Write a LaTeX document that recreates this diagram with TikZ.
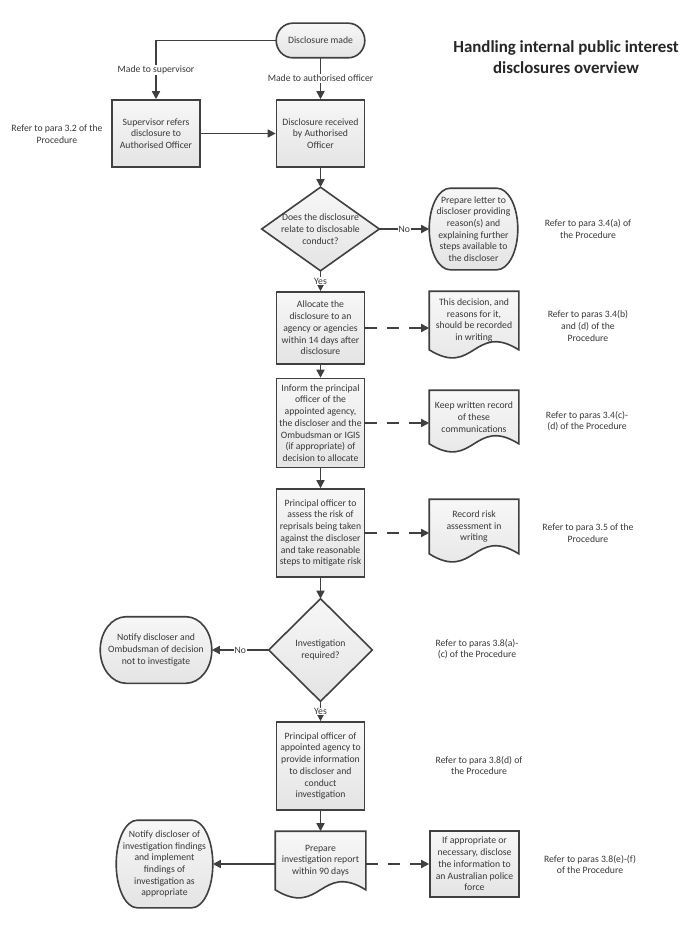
\documentclass[tikz,border=0pt]{standalone}
\usepackage{fontspec}
\setmainfont{Carlito}
\usetikzlibrary{arrows.meta,calc}
\definecolor{ln}{HTML}{404040}
\definecolor{tx}{HTML}{383838}
\definecolor{ftop}{HTML}{F7F7F7}
\definecolor{fbot}{HTML}{E4E4E4}
\pgfdeclarelayer{bg}
\pgfdeclarelayer{paper}
\pgfsetlayers{paper,bg,main}
\tikzset{
  every node/.style={font=\fontsize{9.7}{11.7}\selectfont, text=tx, align=center},
  holder/.style 2 args={rectangle, inner sep=0pt, outer sep=0.8pt, minimum width=#1, minimum height=#2},
  boxn/.style 2 args={rectangle, draw=ln, line width=1.6pt, top color=ftop, bottom color=fbot,
    inner sep=0pt, minimum width=#1, minimum height=#2},
  shp/.style={draw=ln, line width=1.6pt, top color=ftop, bottom color=fbot},
  arr/.style={draw=ln, line width=1.6pt, -{Triangle[length=8pt,width=8pt]}},
  dsh/.style={arr, dash pattern=on 12pt off 10pt on 12pt off 10pt on 40pt off 1pt},
  lab/.style={fill=white, inner sep=0.6pt},
  note/.style={},
}
\newcommand\termshape[2]{%
  \path[shp] ($(#1.north west)+(#2,0)$) -- ($(#1.north east)+(-#2,0)$)
  .. controls ($(#1.north east)+({-0.4477*#2},0)$) and ($(#1.east)!0.5523!(#1.north east)$) .. (#1.east)
  .. controls ($(#1.east)!0.5523!(#1.south east)$) and ($(#1.south east)+({-0.4477*#2},0)$) .. ($(#1.south east)+(-#2,0)$)
  -- ($(#1.south west)+(#2,0)$)
  .. controls ($(#1.south west)+({0.4477*#2},0)$) and ($(#1.west)!0.5523!(#1.south west)$) .. (#1.west)
  .. controls ($(#1.west)!0.5523!(#1.north west)$) and ($(#1.north west)+({0.4477*#2},0)$) .. ($(#1.north west)+(#2,0)$)
  -- cycle;}
\newcommand\docshape[2]{%
  \path[shp] (#1.north west) -- (#1.north east) -- (#1.south east)
  .. controls ($(#1.south)+(0,-#2)$) and ($(#1.south)+(0,#2)$) .. (#1.south west) -- cycle;}
\newcommand\diashape[1]{%
  \path[shp] (#1.north) -- (#1.east) -- (#1.south) -- (#1.west) -- cycle;}
\begin{document}
\begin{tikzpicture}[x=1pt,y=-1pt]
\begin{pgfonlayer}{paper}
\useasboundingbox[fill=white] (0,0) rectangle (683,947);
\end{pgfonlayer}

% title
\node[font=\fontsize{16.9}{20.5}\selectfont\bfseries, text=black!85] (title) at (566,57)
  {Handling internal public interest\\disclosures overview};

% nodes
\node[holder={87pt}{33pt}] (dm) at (320.5,40.5) {Disclosure made};
\node[boxn={88pt}{67pt}] (sup) at (156,133.5) {Supervisor refers\\disclosure to\\Authorised Officer};
\node[boxn={88pt}{67pt}] (rec) at (320.5,133.5) {Disclosure received\\by Authorised\\Officer};
\node[note] (ref32) at (57,134) {Refer to para 3.2 of the\\Procedure};

\node[holder={116pt}{82pt}] (d1) at (320.5,229) {Does the disclosure\\relate to disclosable\\conduct?};
\node[holder={87pt}{80pt}] (letter) at (473.5,229) {Prepare letter to\\discloser providing\\reason(s) and\\explaining further\\steps available to\\the discloser};
\node[note] (ref34a) at (588,229) {Refer to para 3.4(a) of\\the Procedure};

\node[boxn={88pt}{72pt}] (alloc) at (320.5,328) {Allocate the\\disclosure to an\\agency or agencies\\within 14 days after\\disclosure};
\node[holder={88pt}{57pt}] (doc1) at (474,320.5) {This decision, and\\reasons for it,\\should be recorded\\in writing};
\node[note] (ref34b) at (588,326) {Refer to paras 3.4(b)\\and (d) of the\\Procedure};

\node[boxn={88pt}{89pt}] (inform) at (320.5,423) {Inform the principal\\officer of the\\appointed agency,\\the discloser and the\\Ombudsman or IGIS\\(if appropriate) of\\decision to allocate};
\node[holder={88pt}{52pt}] (doc2) at (474,417) {Keep written record\\of these\\communications};
\node[note] (ref34c) at (587,421) {Refer to paras 3.4(c)-\\(d) of the Procedure};

\node[boxn={88pt}{88pt}] (assess) at (320.5,533) {Principal officer to\\assess the risk of\\reprisals being taken\\against the discloser\\and take reasonable\\steps to mitigate risk};
\node[holder={88pt}{53pt}] (doc3) at (474,526.5) {Record risk\\assessment in\\writing};
\node[note] (ref35) at (588,533) {Refer to para 3.5 of the\\Procedure};

\node[holder={102pt}{101pt}] (d2) at (320.5,650) {Investigation\\required?};
\node[holder={110pt}{65pt}] (notify1) at (156,650) {Notify discloser and\\Ombudsman of decision\\not to investigate};
\node[note] (ref38a) at (477,649) {Refer to paras 3.8(a)-\\(c) of the Procedure};

\node[boxn={88pt}{88pt}] (invest) at (320.5,766) {Principal officer of\\appointed agency to\\provide information\\to discloser and\\conduct\\investigation};
\node[note] (ref38d) at (479,765.5) {Refer to para 3.8(d) of\\the Procedure};

\node[holder={89pt}{57pt}] (report) at (320.5,860.5) {Prepare\\investigation report\\within 90 days};
\node[holder={95pt}{86pt}] (notify2) at (164.5,864) {Notify discloser of\\investigation findings\\and implement\\findings of\\investigation as\\appropriate};
\node[boxn={89pt}{66pt}] (police) at (474.5,864) {If appropriate or\\necessary, disclose\\the information to\\an Australian police\\force};
\node[note] (ref38e) at (590,864.5) {Refer to paras 3.8(e)-(f)\\of the Procedure};

% shapes behind text
\begin{pgfonlayer}{bg}
  \termshape{dm}{16.5}
  \termshape{letter}{21}
  \termshape{notify1}{26}
  \termshape{notify2}{21}
  \diashape{d1}
  \diashape{d2}
  \docshape{doc1}{28}
  \docshape{doc2}{28}
  \docshape{doc3}{28}
  \docshape{report}{28}
\end{pgfonlayer}

% connectors
\draw[arr] (dm.west) -| node[lab, pos=0.75] {Made to supervisor} (sup.north);
\draw[arr] (dm.south) -- node[lab] {Made to authorised officer} (rec.north);
\draw[arr] (sup.east) -- (rec.west);
\draw[arr] (rec.south) -- (d1.north);
\draw[arr] (d1.east) -- node[lab] {No} (letter.west);
\draw[arr] (d1.south) -- node[lab] {Yes} (alloc.north);
\draw[dsh] (alloc.east) -- (alloc.east -| doc1.west);
\draw[arr] (alloc.south) -- (inform.north);
\draw[dsh] (inform.east) -- (inform.east -| doc2.west);
\draw[arr] (inform.south) -- (assess.north);
\draw[dsh] (assess.east) -- (assess.east -| doc3.west);
\draw[arr] (assess.south) -- (d2.north);
\draw[arr] (d2.west) -- node[lab] {No} (notify1.east);
\draw[arr] (d2.south) -- node[lab] {Yes} (invest.north);
\draw[arr] (invest.south) -- (report.north);
\draw[arr] (report.west |- notify2.east) -- (notify2.east);
\draw[dsh] (report.east |- police.west) -- (police.west);
\end{tikzpicture}
\end{document}
